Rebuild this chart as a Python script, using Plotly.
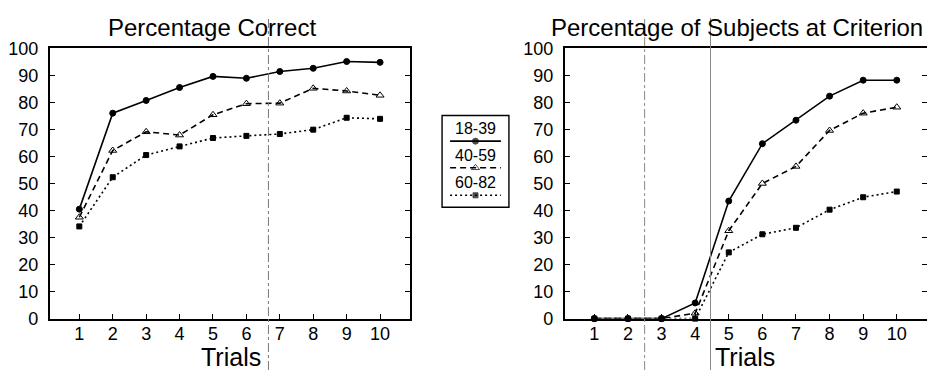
import plotly.graph_objects as go

# The page body adds an 8px margin, so the figure is sized to the visible area
# and target pixel positions are converted with that offset.
VW, VH, OFF = 935, 380, 8
W, H = VW - OFF, VH - OFF


def px(x):
    return (x - OFF) / W


def py(y):
    return 1 - (y - OFF) / H


trials = [1, 2, 3, 4, 5, 6, 7, 8, 9, 10]
groups = ["18-39", "40-59", "60-82"]

correct_18_39 = [40.5, 76.0, 80.7, 85.5, 89.6, 88.9, 91.4, 92.6, 95.1, 94.8]
correct_40_59 = [37.5, 62.2, 69.1, 67.9, 75.4, 79.5, 79.7, 85.2, 84.2, 82.6]
correct_60_82 = [34.1, 52.3, 60.5, 63.7, 66.8, 67.6, 68.3, 69.9, 74.3, 73.9]

crit_18_39 = [0, 0, 0, 5.8, 43.5, 64.7, 73.4, 82.3, 88.2, 88.2]
crit_40_59 = [0, 0, 0, 2.0, 32.5, 50.0, 56.3, 69.6, 76.0, 78.2]
crit_60_82 = [0, 0, 0, 0, 24.5, 31.2, 33.6, 40.3, 44.9, 47.0]

titles = ["Percentage Correct", "Percentage of Subjects at Criterion"]
x_title = "Trials"
y_ticks = [0, 10, 20, 30, 40, 50, 60, 70, 80, 90, 100]

styles = {
    "18-39": dict(dash="solid", symbol="circle", size=6),
    "40-59": dict(dash="6px,4px", symbol="triangle-up-open", size=7),
    "60-82": dict(dash="2px,3px", symbol="square", size=5),
}

FONT = "Liberation Sans, Arial, sans-serif"

fig = go.Figure()

panels = [
    ("x", "y", [correct_18_39, correct_40_59, correct_60_82]),
    ("x2", "y2", [crit_18_39, crit_40_59, crit_60_82]),
]
for xa, ya, series in panels:
    for g, vals in zip(groups, series):
        s = styles[g]
        fig.add_trace(go.Scatter(
            x=trials, y=vals, xaxis=xa, yaxis=ya, mode="lines+markers",
            name=g, showlegend=False, cliponaxis=False,
            line=dict(color="black", width=1.6, dash=s["dash"]),
            marker=dict(symbol=s["symbol"], size=s["size"], color="black",
                        line=dict(color="black", width=1)),
        ))

# custom legend (text above each line sample) on a small helper axis
leg_y = [0.72, 0.43, 0.13]
for g, yy in zip(groups, leg_y):
    s = styles[g]
    fig.add_trace(go.Scatter(
        x=[0.12, 0.5, 0.88], y=[yy] * 3, xaxis="x3", yaxis="y3",
        mode="lines+markers", showlegend=False, hoverinfo="skip", cliponaxis=False,
        line=dict(color="black", width=1.6, dash=s["dash"]),
        marker=dict(symbol=s["symbol"], size=[0, s["size"], 0], color="black",
                    line=dict(color="black", width=1)),
    ))

axis_common = dict(
    showgrid=False, zeroline=False, showline=True, linecolor="black",
    linewidth=2, ticks="inside", tickcolor="black", ticklen=5, tickwidth=1.3,
    tickfont=dict(family=FONT, size=18, color="black"),
)

xr = [0.12, 10.9]
ydom = [py(325.7), py(40)]
fig.update_layout(
    width=W, height=H,
    margin=dict(l=0, r=0, t=0, b=0),
    paper_bgcolor="white", plot_bgcolor="white",
    xaxis=dict(domain=[px(48), px(409)], range=xr, tickvals=trials,
               mirror=True, anchor="y", ticklabelstandoff=-2, **axis_common),
    yaxis=dict(domain=ydom, range=[0, 100],
               tickvals=y_ticks, mirror="ticks", anchor="x",
               ticklabelstandoff=6, **axis_common),
    xaxis2=dict(domain=[px(564), px(927)], range=xr, tickvals=trials,
                mirror=True, anchor="y2", ticklabelstandoff=-2, **axis_common),
    yaxis2=dict(domain=ydom, range=[0, 100],
                tickvals=y_ticks, mirror="ticks", anchor="x2",
                ticklabelstandoff=6, **axis_common),
    xaxis3=dict(domain=[px(441), px(508)], range=[0, 1], visible=False,
                fixedrange=True, anchor="y3"),
    yaxis3=dict(domain=[py(208), py(111)], range=[0, 1],
                visible=False, fixedrange=True, anchor="x3"),
    font=dict(family=FONT, color="black"),
)

annotations = [
    dict(text=titles[0], x=px(210), y=py(18), xref="paper", yref="paper",
         xanchor="center", yanchor="middle", showarrow=False,
         font=dict(family=FONT, size=24, color="black")),
    dict(text=titles[1], x=px(737), y=py(18), xref="paper", yref="paper",
         xanchor="center", yanchor="middle", showarrow=False,
         font=dict(family=FONT, size=24, color="black")),
    dict(text=x_title, x=px(229), y=py(366), xref="paper", yref="paper",
         xanchor="center", yanchor="middle", showarrow=False,
         font=dict(family=FONT, size=25, color="black")),
    dict(text=x_title, x=px(745), y=py(366), xref="paper", yref="paper",
         xanchor="center", yanchor="middle", showarrow=False,
         font=dict(family=FONT, size=25, color="black")),
]
for g, yy in zip(groups, leg_y):
    annotations.append(dict(
        text=g, x=0.5, y=yy + 0.02, xref="x3", yref="y3", xanchor="center",
        yanchor="bottom", showarrow=False,
        font=dict(family=FONT, size=16, color="black")))
fig.update_layout(annotations=annotations)

shapes = [
    # legend frame
    dict(type="rect", xref="paper", yref="paper", x0=px(441), x1=px(508),
         y0=py(208), y1=py(111), line=dict(color="black", width=1.4)),
    # faint vertical scan lines visible in the reference
    dict(type="line", xref="paper", yref="paper", x0=px(267), x1=px(267),
         y0=0, y1=1, line=dict(color="#777", width=1, dash="dashdot")),
    dict(type="line", xref="paper", yref="paper", x0=px(644), x1=px(644),
         y0=0, y1=1, line=dict(color="#888", width=1, dash="dashdot")),
    dict(type="line", xref="paper", yref="paper", x0=px(710), x1=px(710),
         y0=0, y1=1, line=dict(color="#888", width=1)),
]
fig.update_layout(shapes=shapes)

fig.write_html("out.html")
